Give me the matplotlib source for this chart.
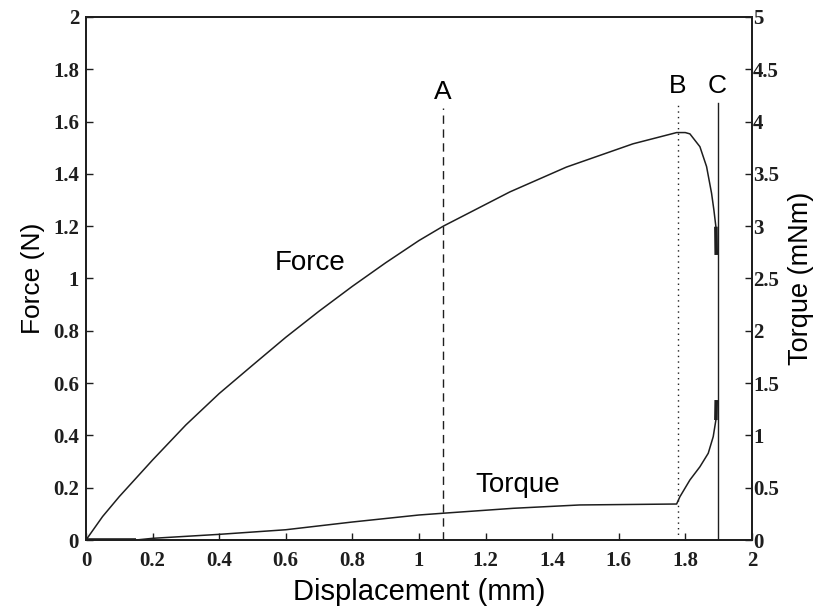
import matplotlib
matplotlib.use("Agg")
import matplotlib.pyplot as plt

# Force-displacement record (N vs mm)
force_disp = [0, 0.05, 0.1, 0.2, 0.3, 0.4, 0.5, 0.6, 0.7, 0.8, 0.9, 1.0,
              1.073, 1.273, 1.443, 1.643, 1.774, 1.80, 1.814, 1.844, 1.864,
              1.879, 1.886, 1.892, 1.893]
force_val = [0, 0.09, 0.166, 0.306, 0.44, 0.56, 0.668, 0.775, 0.875, 0.97,
             1.06, 1.145, 1.2, 1.331, 1.426, 1.515, 1.558, 1.558, 1.553,
             1.504, 1.428, 1.326, 1.262, 1.198, 1.09]

# Torque-displacement record (mNm vs mm)
torque_disp = [0, 0.15, 0.2, 0.4, 0.6, 0.8, 1.0, 1.073, 1.283, 1.483, 1.774,
               1.784, 1.814, 1.844, 1.869, 1.884, 1.892, 1.893]
torque_val = [0, 0, 0.016, 0.054, 0.098, 0.172, 0.239, 0.256, 0.303, 0.335,
              0.344, 0.414, 0.574, 0.70, 0.829, 0.988, 1.147, 1.338]

# Event markers
event_names = ["A", "B", "C"]
event_disp = [1.072, 1.777, 1.897]
event_styles = [(0, (6, 4)), (0, (1, 3)), "-"]
event_line_top = [1.651, 1.662, 1.67]
event_label_y = [1.685, 1.708, 1.708]

force_ticks = [0, 0.2, 0.4, 0.6, 0.8, 1, 1.2, 1.4, 1.6, 1.8, 2]
torque_ticks = [0, 0.5, 1, 1.5, 2, 2.5, 3, 3.5, 4, 4.5, 5]
disp_ticks = [0, 0.2, 0.4, 0.6, 0.8, 1, 1.2, 1.4, 1.6, 1.8, 2]

tick_font = {"family": "Liberation Serif", "weight": "bold", "size": 15}
sans = "Liberation Sans"

fig = plt.figure(figsize=(8.19, 6.11), dpi=100)
ax = fig.add_axes([0.105, 0.1162, 0.813, 0.856])
ax2 = ax.twinx()

ink = "#1e1e1e"
ax.plot(force_disp[:-1], force_val[:-1], color=ink, lw=1.1)
ax.plot(force_disp[-2:], force_val[-2:], color=ink, lw=2.6, solid_capstyle="butt")
ax2.plot(torque_disp[1:-1], torque_val[1:-1], color=ink, lw=1.1)
ax2.plot(torque_disp[:2], torque_val[:2], color=ink, lw=2.6, solid_capstyle="butt")
ax2.plot(torque_disp[-2:], torque_val[-2:], color=ink, lw=2.6, solid_capstyle="butt")

for name, xd, ls, top, ly in zip(event_names, event_disp, event_styles,
                                 event_line_top, event_label_y):
    ax.plot([xd, xd], [0, top], color=ink, lw=1.0, linestyle=ls)
    ax.text(xd, ly, name, ha="center", va="baseline", family=sans, fontsize=19)

ax.text(0.673, 1.032, "Force", ha="center", va="baseline", family=sans, fontsize=20)
ax.text(1.297, 0.185, "Torque", ha="center", va="baseline", family=sans, fontsize=20)

ax.set_xlim(0, 2)
ax.set_ylim(0, 2)
ax2.set_ylim(0, 5)
ax.set_xticks(disp_ticks)
ax.set_yticks(force_ticks)
ax2.set_yticks(torque_ticks)
ax.set_xticklabels([f"{t:g}" for t in disp_ticks], fontdict=tick_font)
ax.set_yticklabels([f"{t:g}" for t in force_ticks], fontdict=tick_font)
ax2.set_yticklabels([f"{t:g}" for t in torque_ticks], fontdict=tick_font)

ax.tick_params(axis="both", direction="in", length=5, width=1.0, colors=ink)
ax.tick_params(axis="y", pad=5)
ax.tick_params(axis="x", pad=8)
ax2.tick_params(axis="y", direction="in", length=5, width=1.0, pad=1, colors=ink)
for a in (ax, ax2):
    for s in a.spines.values():
        s.set_linewidth(1.3)
        s.set_color(ink)

ax.set_xlabel("Displacement (mm)", family=sans, fontsize=21, labelpad=5)
ax.set_ylabel("Force (N)", family=sans, fontsize=19, labelpad=6)
ax2.set_ylabel("Torque (mNm)", family=sans, fontsize=19.5, labelpad=6)

fig.savefig("out.png", dpi=100)
